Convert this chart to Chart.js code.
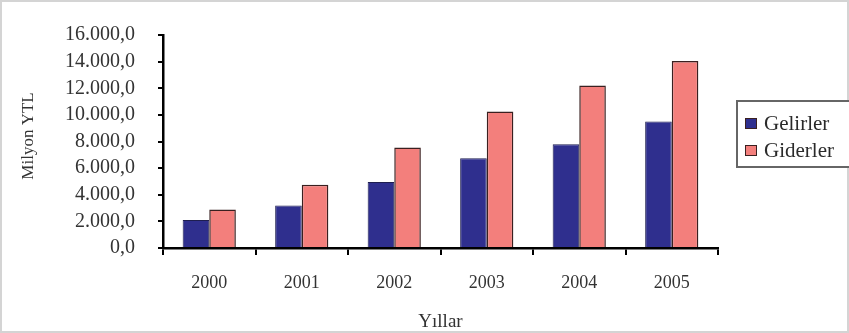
<!DOCTYPE html>
<html>
<head>
<meta charset="utf-8">
<script src="https://cdn.jsdelivr.net/npm/chart.js@4/dist/chart.umd.min.js"></script>
<style>
html,body{margin:0;padding:0;background:#fff;}
#wrap{position:relative;width:849px;height:333px;}
</style>
</head>
<body>
<div id="wrap"><canvas id="c" width="849" height="333"></canvas></div>
<script>
const categories = ['2000', '2001', '2002', '2003', '2004', '2005'];
const gelirler = [2100, 3200, 4950, 6750, 7800, 9500];
const giderler = [2900, 4750, 7550, 10250, 12200, 14050];
const seriesNames = ['Gelirler', 'Giderler'];
const yTicks = [0, 2000, 4000, 6000, 8000, 10000, 12000, 14000, 16000];
const yTitle = 'Milyon YTL';
const xTitle = 'Yıllar';

function fmt(v) {
  const s = Math.round(v).toString().replace(/\B(?=(\d{3})+(?!\d))/g, '.');
  return s + ',0';
}

const FONT = "'Liberation Serif','Times New Roman',serif";

const frameAndLegend = {
  id: 'frameAndLegend',
  afterDraw(chart) {
    const ctx = chart.ctx;
    ctx.save();
    ctx.strokeStyle = '#d4d4d4';
    ctx.lineWidth = 2;
    ctx.strokeRect(1, 1, chart.width - 2, chart.height - 2);
    ctx.fillStyle = '#ffffff';
    ctx.fillRect(736, 100, 113, 67);
    ctx.strokeStyle = '#666666';
    ctx.lineWidth = 2;
    ctx.strokeRect(737, 101, 118, 66);
    ctx.font = '21px ' + FONT;
    ctx.textBaseline = 'middle';
    ctx.textAlign = 'left';
    chart.data.datasets.forEach((ds, i) => {
      const cy = 123 + i * 27;
      ctx.fillStyle = ds.backgroundColor;
      ctx.fillRect(745, cy - 5, 12, 11);
      ctx.strokeStyle = '#3a2020';
      ctx.lineWidth = 1;
      ctx.strokeRect(745.5, cy - 4.5, 11, 10);
      ctx.fillStyle = '#2a2a2a';
      ctx.fillText(ds.label, 764, cy + 1);
    });
    ctx.save();
    ctx.translate(29, 136);
    ctx.rotate(-Math.PI / 2);
    ctx.textAlign = 'center';
    ctx.textBaseline = 'middle';
    ctx.font = '17px ' + FONT;
    ctx.fillStyle = '#333';
    ctx.fillText(yTitle, 0, 0);
    ctx.restore();
    ctx.restore();
  }
};

new Chart(document.getElementById('c'), {
  type: 'bar',
  data: {
    labels: categories,
    datasets: [
      { label: seriesNames[0], data: gelirler, backgroundColor: '#2f2f8e', borderColor: '#1e1e50', borderWidth: 1 },
      { label: seriesNames[1], data: giderler, backgroundColor: '#f37f7c', borderColor: '#3a2020', borderWidth: 1.5 }
    ]
  },
  options: {
    responsive: false,
    animation: false,
    layout: { padding: { top: 27, right: 131, left: 0, bottom: 0 } },
    plugins: {
      legend: { display: false },
      tooltip: { enabled: false }
    },
    datasets: { bar: { categoryPercentage: 0.575, barPercentage: 1 } },
    scales: {
      x: {
        afterFit(s) { s.height = 85; },
        grid: { display: true, drawOnChartArea: false, offset: true, tickLength: 7, color: '#000', lineWidth: 2 },
        border: { color: '#000', width: 2.5 },
        ticks: { font: { family: FONT, size: 18 }, color: '#333', padding: 17, maxRotation: 0, autoSkip: false },
        title: { display: true, text: xTitle, font: { family: FONT, size: 19 }, color: '#333', padding: { top: 18, bottom: 0 } }
      },
      y: {
        min: 0, max: 16000,
        afterFit(s) { s.width = 163; },
        afterBuildTicks(s) { s.ticks = yTicks.map(v => ({ value: v })); },
        grid: { display: true, drawOnChartArea: false, tickLength: 5, color: '#000', lineWidth: 2 },
        border: { color: '#000', width: 2.5 },
        ticks: { font: { family: FONT, size: 20 }, color: '#333', padding: 23, autoSkip: false, callback: v => fmt(v) }
      }
    }
  },
  plugins: [frameAndLegend]
});
</script>
</body>
</html>
